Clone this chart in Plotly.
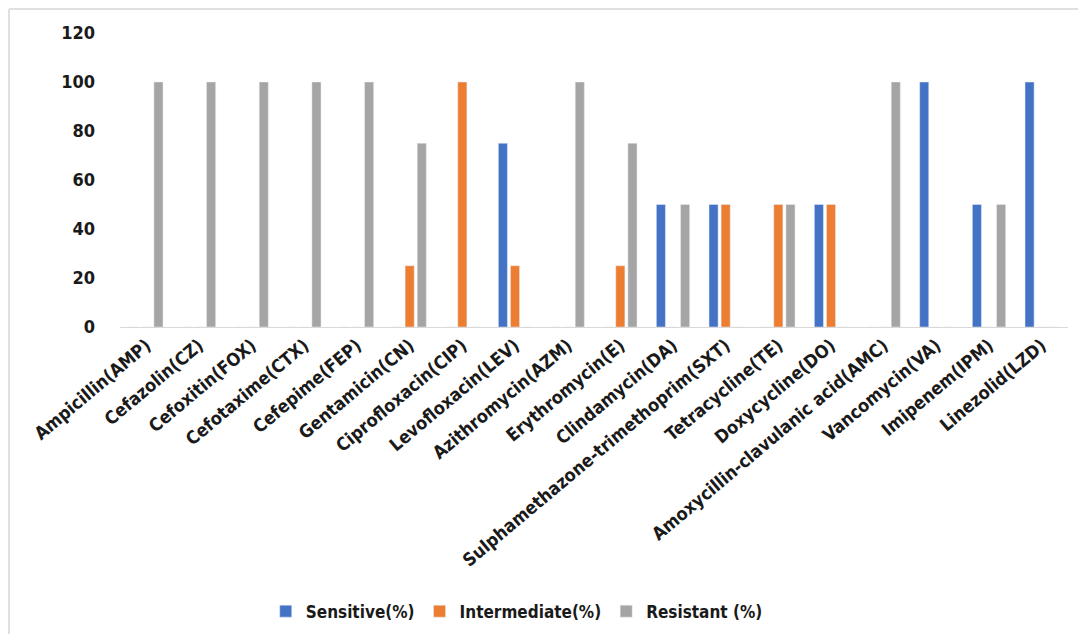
import plotly.graph_objects as go

categories = ["Ampicillin(AMP)", "Cefazolin(CZ)", "Cefoxitin(FOX)", "Cefotaxime(CTX)", "Cefepime(FEP)",
              "Gentamicin(CN)", "Ciprofloxacin(CIP)", "Levofloxacin(LEV)", "Azithromycin(AZM)",
              "Erythromycin(E)", "Clindamycin(DA)", "Sulphamethazone-trimethoprim(SXT)", "Tetracycline(TE)",
              "Doxycycline(DO)", "Amoxycillin-clavulanic acid(AMC)", "Vancomycin(VA)", "Imipenem(IPM)",
              "Linezolid(LZD)"]
sensitive = [0, 0, 0, 0, 0, 0, 0, 75, 0, 0, 50, 50, 0, 50, 0, 100, 50, 100]
intermediate = [0, 0, 0, 0, 0, 25, 100, 25, 0, 25, 0, 50, 50, 50, 0, 0, 0, 0]
resistant = [100, 100, 100, 100, 100, 75, 0, 0, 100, 75, 50, 0, 50, 0, 100, 0, 50, 0]
y_ticks = [0, 20, 40, 60, 80, 100, 120]

FONT = "DejaVu Sans Condensed"
W, H = 1070, 626
ML, MR, MT, MB = 112, 10, 25, 307
PW, PH = W - ML - MR, H - MT - MB

fig = go.Figure()
fig.add_trace(go.Bar(x=categories, y=sensitive, name="Sensitive(%)", marker_color="#4472C4"))
fig.add_trace(go.Bar(x=categories, y=intermediate, name="Intermediate(%)", marker_color="#ED7D31"))
fig.add_trace(go.Bar(x=categories, y=resistant, name="Resistant (%)", marker_color="#A5A5A5"))

fig.update_layout(
    width=W, height=H,
    paper_bgcolor="white", plot_bgcolor="white",
    margin=dict(l=ML, r=MR, t=MT, b=MB, autoexpand=False),
    barmode="group", bargap=0.31, bargroupgap=0.25,
    font=dict(family=FONT, color="#1a1a1a"),
    xaxis=dict(tickangle=-40, tickfont=dict(size=18, family=FONT, weight="bold", color="#1a1a1a"),
               showline=True, linecolor="#d9d9d9", linewidth=1, ticks="", automargin=False),
    yaxis=dict(range=[0, 120], tickvals=y_ticks, showgrid=False, zeroline=False, showline=False,
               tickfont=dict(size=18, family=FONT, weight="bold", color="#1a1a1a"),
               ticklabelstandoff=24, automargin=False),
    legend=dict(orientation="h", x=0.4185, xanchor="center", y=-0.968, yanchor="middle",
                font=dict(size=17, family=FONT, weight="bold", color="#1a1a1a"),
                itemwidth=30, traceorder="normal"),
    shapes=[
        dict(type="line", xref="paper", yref="paper", x0=(1 - ML) / PW, x1=1.05, y0=1 + (MT - 1) / PH,
             y1=1 + (MT - 1) / PH, line=dict(color="#e0e0e0", width=2)),
        dict(type="line", xref="paper", yref="paper", x0=(1 - ML) / PW, x1=(1 - ML) / PW,
             y0=1 + (MT - 1) / PH, y1=-(MB) / PH, line=dict(color="#e0e0e0", width=2)),
    ],
)

fig.write_html("out.html")
